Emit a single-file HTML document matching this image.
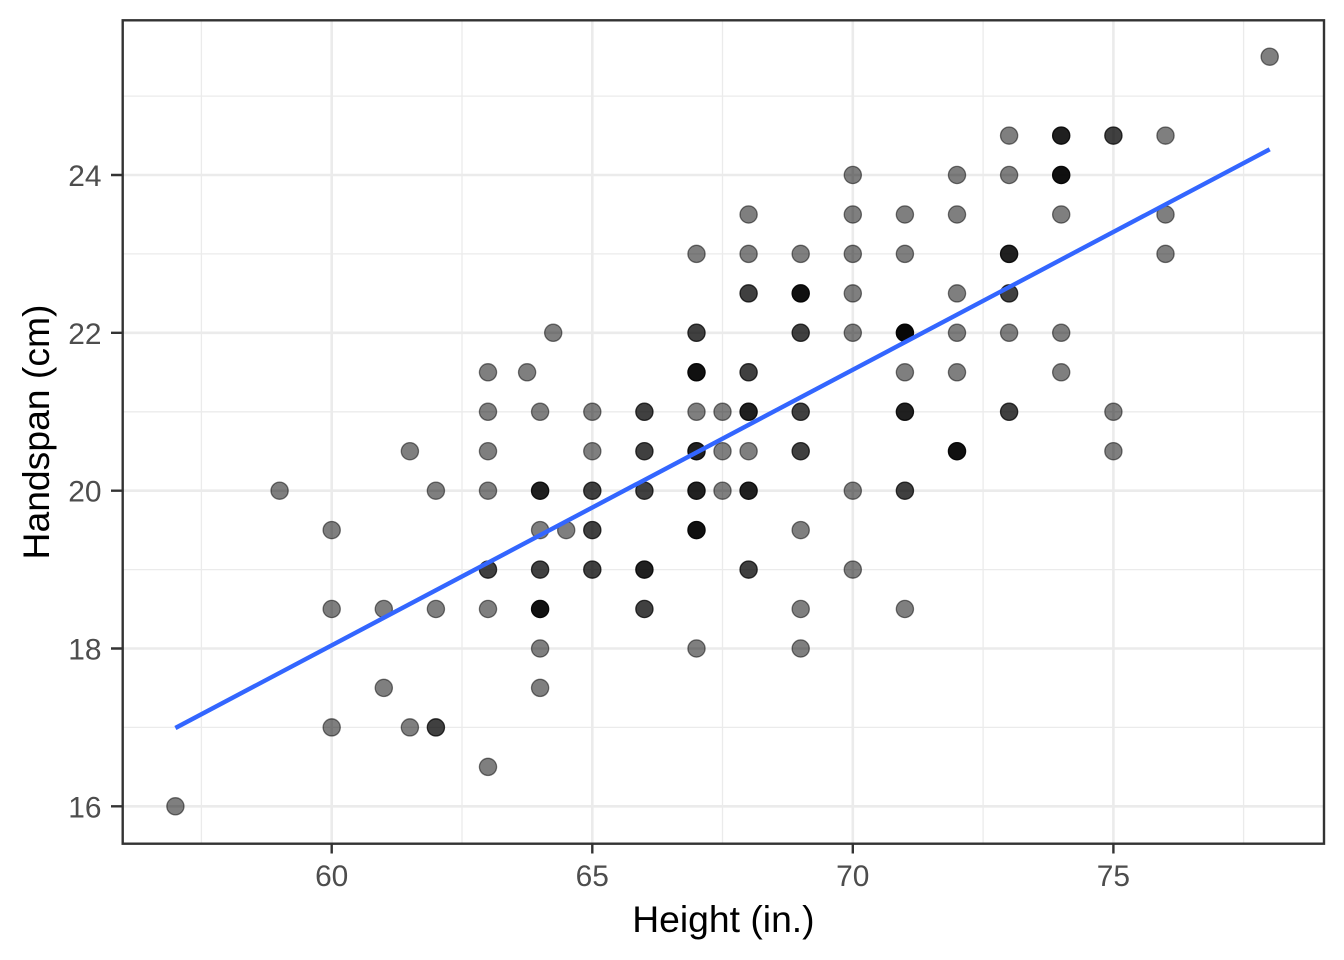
<!DOCTYPE html>
<html>
<head>
<meta charset="utf-8">
<style>
html,body{margin:0;padding:0;background:#fff;}
svg{display:block;}
circle{fill:#000;stroke:#000;stroke-width:1.3;}
.a{fill-opacity:.5;stroke-opacity:.5;}
.b{fill-opacity:.75;stroke-opacity:.75;}
.c{fill-opacity:.875;stroke-opacity:.875;}
.d{fill-opacity:.9375;stroke-opacity:.9375;}
.e{fill-opacity:.969;stroke-opacity:.969;}
.tk{font-family:"Liberation Sans",Arial,sans-serif;font-size:29.9px;fill:#4D4D4D;}
.tt{font-family:"Liberation Sans",Arial,sans-serif;font-size:37.3px;fill:#000;}
</style>
</head>
<body>
<svg width="1344" height="960" viewBox="0 0 1344 960" xmlns="http://www.w3.org/2000/svg">
<rect x="0" y="0" width="1344" height="960" fill="#fff"/>
<g stroke="#EBEBEB" stroke-width="1.3">
<path d="M201.4 20.3V843.7M462 20.3V843.7M722.5 20.3V843.7M983.1 20.3V843.7M1243.6 20.3V843.7M122.7 727.4H1324M122.7 569.6H1324M122.7 411.8H1324M122.7 253.9H1324M122.7 96.1H1324"/>
</g>
<g stroke="#EBEBEB" stroke-width="2.6">
<path d="M331.7 20.3V843.7M592.3 20.3V843.7M852.8 20.3V843.7M1113.4 20.3V843.7M122.7 806.3H1324M122.7 648.5H1324M122.7 490.7H1324M122.7 332.8H1324M122.7 175H1324"/>
</g>
<g>
<circle class="a" cx="175.4" cy="806.3" r="8.6"/>
<circle class="a" cx="279.6" cy="490.7" r="8.6"/>
<circle class="a" cx="331.7" cy="530.1" r="8.6"/>
<circle class="a" cx="331.7" cy="609.0" r="8.6"/>
<circle class="a" cx="331.7" cy="727.4" r="8.6"/>
<circle class="a" cx="383.8" cy="609.0" r="8.6"/>
<circle class="a" cx="383.8" cy="687.9" r="8.6"/>
<circle class="a" cx="409.9" cy="451.2" r="8.6"/>
<circle class="a" cx="409.9" cy="727.4" r="8.6"/>
<circle class="a" cx="435.9" cy="490.7" r="8.6"/>
<circle class="a" cx="435.9" cy="609.0" r="8.6"/>
<circle class="b" cx="435.9" cy="727.4" r="8.6"/>
<circle class="a" cx="488.0" cy="372.3" r="8.6"/>
<circle class="a" cx="488.0" cy="411.8" r="8.6"/>
<circle class="a" cx="488.0" cy="451.2" r="8.6"/>
<circle class="a" cx="488.0" cy="490.7" r="8.6"/>
<circle class="b" cx="488.0" cy="569.6" r="8.6"/>
<circle class="a" cx="488.0" cy="609.0" r="8.6"/>
<circle class="a" cx="488.0" cy="766.9" r="8.6"/>
<circle class="a" cx="527.1" cy="372.3" r="8.6"/>
<circle class="a" cx="553.2" cy="332.8" r="8.6"/>
<circle class="a" cx="540.1" cy="411.8" r="8.6"/>
<circle class="c" cx="540.1" cy="490.7" r="8.6"/>
<circle class="a" cx="540.1" cy="530.1" r="8.6"/>
<circle class="b" cx="540.1" cy="569.6" r="8.6"/>
<circle class="d" cx="540.1" cy="609.0" r="8.6"/>
<circle class="a" cx="540.1" cy="648.5" r="8.6"/>
<circle class="a" cx="540.1" cy="687.9" r="8.6"/>
<circle class="a" cx="566.2" cy="530.1" r="8.6"/>
<circle class="a" cx="592.3" cy="411.8" r="8.6"/>
<circle class="a" cx="592.3" cy="451.2" r="8.6"/>
<circle class="b" cx="592.3" cy="490.7" r="8.6"/>
<circle class="b" cx="592.3" cy="530.1" r="8.6"/>
<circle class="b" cx="592.3" cy="569.6" r="8.6"/>
<circle class="b" cx="644.4" cy="411.8" r="8.6"/>
<circle class="b" cx="644.4" cy="451.2" r="8.6"/>
<circle class="b" cx="644.4" cy="490.7" r="8.6"/>
<circle class="c" cx="644.4" cy="569.6" r="8.6"/>
<circle class="b" cx="644.4" cy="609.0" r="8.6"/>
<circle class="a" cx="696.5" cy="253.9" r="8.6"/>
<circle class="b" cx="696.5" cy="332.8" r="8.6"/>
<circle class="d" cx="696.5" cy="372.3" r="8.6"/>
<circle class="a" cx="696.5" cy="411.8" r="8.6"/>
<circle class="c" cx="696.5" cy="451.2" r="8.6"/>
<circle class="c" cx="696.5" cy="490.7" r="8.6"/>
<circle class="d" cx="696.5" cy="530.1" r="8.6"/>
<circle class="a" cx="696.5" cy="648.5" r="8.6"/>
<circle class="a" cx="722.5" cy="411.8" r="8.6"/>
<circle class="a" cx="722.5" cy="451.2" r="8.6"/>
<circle class="a" cx="722.5" cy="490.7" r="8.6"/>
<circle class="a" cx="748.6" cy="214.5" r="8.6"/>
<circle class="a" cx="748.6" cy="253.9" r="8.6"/>
<circle class="b" cx="748.6" cy="293.4" r="8.6"/>
<circle class="b" cx="748.6" cy="372.3" r="8.6"/>
<circle class="c" cx="748.6" cy="411.8" r="8.6"/>
<circle class="a" cx="748.6" cy="451.2" r="8.6"/>
<circle class="c" cx="748.6" cy="490.7" r="8.6"/>
<circle class="b" cx="748.6" cy="569.6" r="8.6"/>
<circle class="a" cx="800.7" cy="253.9" r="8.6"/>
<circle class="d" cx="800.7" cy="293.4" r="8.6"/>
<circle class="b" cx="800.7" cy="332.8" r="8.6"/>
<circle class="b" cx="800.7" cy="411.8" r="8.6"/>
<circle class="b" cx="800.7" cy="451.2" r="8.6"/>
<circle class="a" cx="800.7" cy="530.1" r="8.6"/>
<circle class="a" cx="800.7" cy="609.0" r="8.6"/>
<circle class="a" cx="800.7" cy="648.5" r="8.6"/>
<circle class="a" cx="852.8" cy="175.0" r="8.6"/>
<circle class="a" cx="852.8" cy="214.5" r="8.6"/>
<circle class="a" cx="852.8" cy="253.9" r="8.6"/>
<circle class="a" cx="852.8" cy="293.4" r="8.6"/>
<circle class="a" cx="852.8" cy="332.8" r="8.6"/>
<circle class="a" cx="852.8" cy="490.7" r="8.6"/>
<circle class="a" cx="852.8" cy="569.6" r="8.6"/>
<circle class="a" cx="904.9" cy="214.5" r="8.6"/>
<circle class="a" cx="904.9" cy="253.9" r="8.6"/>
<circle class="e" cx="904.9" cy="332.8" r="8.6"/>
<circle class="a" cx="904.9" cy="372.3" r="8.6"/>
<circle class="c" cx="904.9" cy="411.8" r="8.6"/>
<circle class="b" cx="904.9" cy="490.7" r="8.6"/>
<circle class="a" cx="904.9" cy="609.0" r="8.6"/>
<circle class="a" cx="957.0" cy="175.0" r="8.6"/>
<circle class="a" cx="957.0" cy="214.5" r="8.6"/>
<circle class="a" cx="957.0" cy="293.4" r="8.6"/>
<circle class="a" cx="957.0" cy="332.8" r="8.6"/>
<circle class="a" cx="957.0" cy="372.3" r="8.6"/>
<circle class="d" cx="957.0" cy="451.2" r="8.6"/>
<circle class="a" cx="1009.1" cy="135.6" r="8.6"/>
<circle class="a" cx="1009.1" cy="175.0" r="8.6"/>
<circle class="c" cx="1009.1" cy="253.9" r="8.6"/>
<circle class="b" cx="1009.1" cy="293.4" r="8.6"/>
<circle class="a" cx="1009.1" cy="332.8" r="8.6"/>
<circle class="b" cx="1009.1" cy="411.8" r="8.6"/>
<circle class="c" cx="1061.2" cy="135.6" r="8.6"/>
<circle class="d" cx="1061.2" cy="175.0" r="8.6"/>
<circle class="a" cx="1061.2" cy="214.5" r="8.6"/>
<circle class="a" cx="1061.2" cy="332.8" r="8.6"/>
<circle class="a" cx="1061.2" cy="372.3" r="8.6"/>
<circle class="b" cx="1113.4" cy="135.6" r="8.6"/>
<circle class="a" cx="1113.4" cy="411.8" r="8.6"/>
<circle class="a" cx="1113.4" cy="451.2" r="8.6"/>
<circle class="a" cx="1165.5" cy="135.6" r="8.6"/>
<circle class="a" cx="1165.5" cy="214.5" r="8.6"/>
<circle class="a" cx="1165.5" cy="253.9" r="8.6"/>
<circle class="a" cx="1269.7" cy="56.7" r="8.6"/>
</g>
<line x1="175.4" y1="728.0" x2="1269.7" y2="149.3" stroke="#3366FF" stroke-width="4.4"/>
<rect x="122.7" y="20.3" width="1201.3" height="823.4" fill="none" stroke="#333333" stroke-width="2.4"/>
<path stroke="#333333" stroke-width="2.4" d="M111 806.3H122.7M111 648.5H122.7M111 490.7H122.7M111 332.8H122.7M111 175H122.7M331.7 843.7V853.5M592.3 843.7V853.5M852.8 843.7V853.5M1113.4 843.7V853.5"/>
<g class="tk" text-anchor="end">
<text x="101.5" y="817.3">16</text>
<text x="101.5" y="659.5">18</text>
<text x="101.5" y="501.7">20</text>
<text x="101.5" y="343.8">22</text>
<text x="101.5" y="186.0">24</text>
</g>
<g class="tk" text-anchor="middle">
<text x="331.7" y="886">60</text>
<text x="592.3" y="886">65</text>
<text x="852.8" y="886">70</text>
<text x="1113.4" y="886">75</text>
</g>
<text class="tt" x="723.4" y="932" text-anchor="middle">Height (in.)</text>
<text class="tt" x="0" y="0" text-anchor="middle" transform="translate(49,432) rotate(-90)">Handspan (cm)</text>
</svg>
</body>
</html>
